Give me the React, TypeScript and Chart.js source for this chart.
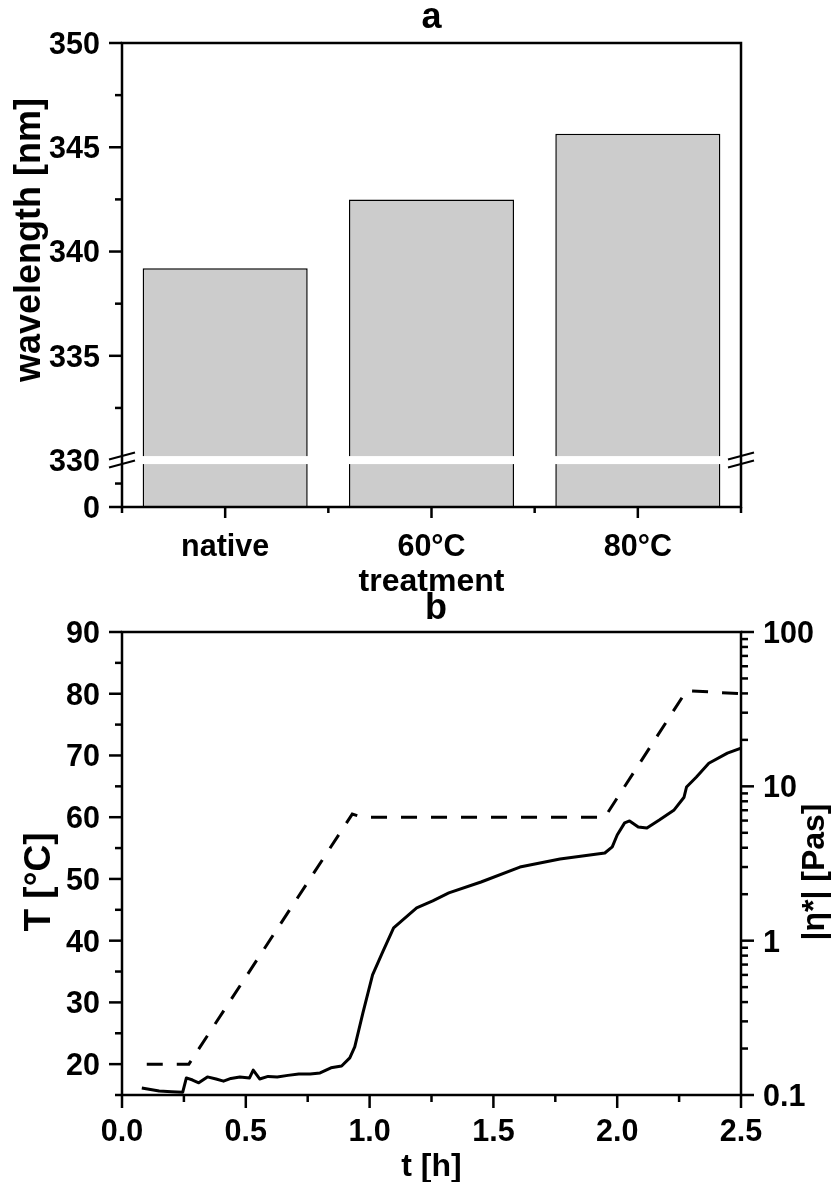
import React, { useEffect, useRef } from "react";
import { Chart, registerables } from "chart.js";

Chart.register(...registerables);

const FONT_FAMILY = '"Liberation Sans", Arial, Helvetica, sans-serif';

// ---------- Panel a data ----------
const treatmentLabels = ["native", "60°C", "80°C"];
const wavelengthValues = [339.2, 342.5, 345.65];
const waveTickValues = [330, 335, 340, 345, 350];
const waveTickLabels = ["330", "335", "340", "345", "350"];
const waveMinorValues = [332.5, 337.5, 342.5, 347.5];
const waveLowTickValues = [0];
const waveLowTickLabels = ["0"];
const waveLowMinorValues = [165];
const waveBreakValue = 330;
const waveMax = 350;

// ---------- Panel b data ----------
const tempTime = [0.1, 0.27, 0.93, 0.97, 1.95, 2.28, 2.5];
const tempValues = [20, 20, 60.5, 60, 60, 80.5, 80];

const viscTime = [
  0.08, 0.15, 0.2, 0.245, 0.26, 0.285, 0.31, 0.345, 0.38, 0.41,
  0.44, 0.476, 0.515, 0.53, 0.556, 0.59, 0.627, 0.67, 0.714, 0.76,
  0.8, 0.844, 0.887, 0.92, 0.94, 0.973, 1.012, 1.053, 1.097, 1.19,
  1.255, 1.32, 1.45, 1.607, 1.769, 1.95, 1.98, 2.0, 2.03, 2.05,
  2.085, 2.12, 2.17, 2.23, 2.27, 2.28, 2.32, 2.37, 2.445, 2.5,
];
const viscValues = [
  0.111, 0.106, 0.105, 0.104, 0.129, 0.125, 0.12, 0.131, 0.127, 0.123,
  0.128, 0.131, 0.129, 0.145, 0.127, 0.132, 0.131, 0.134, 0.137, 0.137,
  0.139, 0.15, 0.154, 0.174, 0.205, 0.34, 0.6, 0.845, 1.21, 1.63,
  1.81, 2.04, 2.4, 3.0, 3.38, 3.7, 4.05, 4.84, 5.8, 5.97,
  5.46, 5.37, 6.05, 7.03, 8.5, 9.9, 11.5, 14.1, 16.4, 17.7,
];

const timeTickValues = [0, 0.5, 1, 1.5, 2, 2.5];
const timeTickLabels = ["0.0", "0.5", "1.0", "1.5", "2.0", "2.5"];
const timeMinorValues = [0.25, 0.75, 1.25, 1.75, 2.25];
const tempTickValues = [20, 30, 40, 50, 60, 70, 80, 90];
const tempMinorValues = [15, 25, 35, 45, 55, 65, 75, 85];
const viscTickValues = [0.1, 1, 10, 100];
const viscTickLabels = ["0.1", "1", "10", "100"];
const viscMinorValues = [
  0.2, 0.3, 0.4, 0.5, 0.6, 0.7, 0.8, 0.9,
  2, 3, 4, 5, 6, 7, 8, 9,
  20, 30, 40, 50, 60, 70, 80, 90,
];

// broken axis: segment 0..330 squeezed into a short band below 330
const LOW_SPAN = 2.25;
const toBroken = (v: number) =>
  v >= waveBreakValue ? v : waveBreakValue - LOW_SPAN + (v / waveBreakValue) * LOW_SPAN;

const TICK_SIZE = 30.5;
const TITLE_SIZE = 32;
const LEFT_TITLE_SIZE = 36;
const PANEL_SIZE = 36;
const MAJOR = 12;
const MINOR = 7;

function line(ctx: CanvasRenderingContext2D, x1: number, y1: number, x2: number, y2: number, w = 2.5) {
  ctx.lineWidth = w;
  ctx.beginPath();
  ctx.moveTo(x1, y1);
  ctx.lineTo(x2, y2);
  ctx.stroke();
}

function text(
  ctx: CanvasRenderingContext2D,
  s: string,
  x: number,
  y: number,
  size: number,
  align: CanvasTextAlign = "center",
  rot = 0
) {
  ctx.save();
  ctx.font = `bold ${size}px ${FONT_FAMILY}`;
  ctx.fillStyle = "#000";
  ctx.textAlign = align;
  ctx.textBaseline = "alphabetic";
  ctx.translate(x, y);
  if (rot) ctx.rotate(rot);
  ctx.fillText(s, 0, 0);
  ctx.restore();
}

const capMid = TICK_SIZE * 0.358;

const panelAPlugin = {
  id: "panelA",
  afterDatasetsDraw(chart: any) {
    const ctx: CanvasRenderingContext2D = chart.ctx;
    const { left, right, top, bottom } = chart.chartArea;
    const xs = chart.scales.x;
    const ys = chart.scales.y;
    ctx.save();
    const yb = ys.getPixelForValue(waveBreakValue);
    // white break band
    ctx.fillStyle = "#fff";
    ctx.fillRect(left, yb - 4, right - left, 8);
    // frame
    ctx.strokeStyle = "#000";
    ctx.lineWidth = 2.5;
    ctx.strokeRect(left, top, right - left, bottom - top);
    // y ticks
    waveTickValues.forEach((v, i) => {
      const y = ys.getPixelForValue(toBroken(v));
      if (v !== waveBreakValue) line(ctx, left - MAJOR - 1, y, left, y);
      text(ctx, waveTickLabels[i], left - 22, y + capMid, TICK_SIZE, "right");
    });
    waveMinorValues.forEach((v) => {
      const y = ys.getPixelForValue(v);
      line(ctx, left - MINOR, y, left, y);
    });
    waveLowTickValues.forEach((v, i) => {
      const y = ys.getPixelForValue(toBroken(v));
      line(ctx, left - MAJOR - 1, y, left, y);
      text(ctx, waveLowTickLabels[i], left - 22, y + capMid, TICK_SIZE, "right");
    });
    waveLowMinorValues.forEach((v) => {
      const y = ys.getPixelForValue(toBroken(v));
      line(ctx, left - MINOR, y, left, y);
    });
    // break slashes
    [left, right].forEach((x) => {
      line(ctx, x - 13, yb - 0.5, x + 13, yb - 7.5, 2);
      line(ctx, x - 13, yb + 7.5, x + 13, yb + 0.5, 2);
    });
    // x ticks
    const n = treatmentLabels.length;
    const step = (right - left) / n;
    for (let i = 0; i <= n; i++) {
      const x = left + i * step;
      line(ctx, x, bottom, x, bottom + MINOR - 1);
    }
    treatmentLabels.forEach((lab, i) => {
      const x = xs.getPixelForValue(i);
      line(ctx, x, bottom, x, bottom + MAJOR - 1);
      text(ctx, lab, x, 556, TICK_SIZE, "center");
    });
    // titles
    text(ctx, "treatment", (left + right) / 2, 591, TITLE_SIZE, "center");
    text(ctx, "a", (left + right) / 2, 28, PANEL_SIZE, "center");
    text(ctx, "wavelength [nm]", 40, 240, LEFT_TITLE_SIZE, "center", -Math.PI / 2);
    ctx.restore();
  },
};

const panelBPlugin = {
  id: "panelB",
  afterDatasetsDraw(chart: any) {
    const ctx: CanvasRenderingContext2D = chart.ctx;
    const { left, right, top, bottom } = chart.chartArea;
    const xs = chart.scales.x;
    const ys = chart.scales.y;
    const y2 = chart.scales.y2;
    ctx.save();
    ctx.strokeStyle = "#000";
    ctx.lineWidth = 2.5;
    ctx.strokeRect(left, top, right - left, bottom - top);
    // left axis
    tempTickValues.forEach((v) => {
      const y = ys.getPixelForValue(v);
      line(ctx, left - MAJOR - 1, y, left, y);
      text(ctx, String(v), left - 22, y + capMid, TICK_SIZE, "right");
    });
    tempMinorValues.forEach((v) => {
      const y = ys.getPixelForValue(v);
      line(ctx, left - MINOR, y, left, y);
    });
    // right axis (log)
    viscTickValues.forEach((v, i) => {
      const y = y2.getPixelForValue(v);
      line(ctx, right, y, right + MAJOR + 1, y);
      text(ctx, viscTickLabels[i], right + 22, y + capMid, TICK_SIZE, "left");
    });
    viscMinorValues.forEach((v) => {
      const y = y2.getPixelForValue(v);
      line(ctx, right, y, right + MINOR, y);
    });
    // bottom axis
    timeTickValues.forEach((v, i) => {
      const x = xs.getPixelForValue(v);
      line(ctx, x, bottom, x, bottom + MAJOR + 1);
      text(ctx, timeTickLabels[i], x, 1141, TICK_SIZE, "center");
    });
    timeMinorValues.forEach((v) => {
      const x = xs.getPixelForValue(v);
      line(ctx, x, bottom, x, bottom + MINOR);
    });
    // titles
    text(ctx, "t [h]", (left + right) / 2, 1176, TITLE_SIZE, "center");
    text(ctx, "b", 436, 619, PANEL_SIZE, "center");
    text(ctx, "T [°C]", 50, 882, LEFT_TITLE_SIZE + 1, "center", -Math.PI / 2);
    text(ctx, "|η*| [Pas]", 824, 872, TITLE_SIZE, "center", -Math.PI / 2);
    ctx.restore();
  },
};

export default function App() {
  const refA = useRef<HTMLCanvasElement>(null);
  const refB = useRef<HTMLCanvasElement>(null);

  useEffect(() => {
    const chartA = new Chart(refA.current as HTMLCanvasElement, {
      type: "bar",
      data: {
        labels: treatmentLabels,
        datasets: [
          {
            label: "wavelength [nm]",
            data: wavelengthValues.map(toBroken),
            backgroundColor: "#cccccc",
            borderColor: "#000000",
            borderWidth: 1.5,
            barPercentage: 0.8,
            categoryPercentage: 1,
          },
        ],
      },
      options: {
        responsive: false,
        animation: false,
        devicePixelRatio: 1,
        layout: { padding: { left: 122, right: 97, top: 43, bottom: 675 } },
        plugins: {
          legend: { display: false },
          tooltip: { enabled: false },
          title: { display: false },
        },
        scales: {
          x: { display: false, offset: true },
          y: { display: false, min: toBroken(0), max: waveMax },
        },
      },
      plugins: [panelAPlugin],
    } as any);

    const chartB = new Chart(refB.current as HTMLCanvasElement, {
      type: "line",
      data: {
        datasets: [
          {
            label: "T [°C]",
            data: tempTime.map((t, i) => ({ x: t, y: tempValues[i] })),
            yAxisID: "y",
            borderColor: "#000000",
            borderWidth: 3,
            borderDash: [16, 14],
            pointRadius: 0,
            tension: 0,
            fill: false,
          },
          {
            label: "|η*| [Pas]",
            data: viscTime.map((t, i) => ({ x: t, y: viscValues[i] })),
            yAxisID: "y2",
            borderColor: "#000000",
            borderWidth: 3,
            borderJoinStyle: "round",
            pointRadius: 0,
            tension: 0,
            fill: false,
          },
        ],
      },
      options: {
        responsive: false,
        animation: false,
        devicePixelRatio: 1,
        layout: { padding: { left: 122, right: 97, top: 632, bottom: 87 } },
        plugins: {
          legend: { display: false },
          tooltip: { enabled: false },
          title: { display: false },
        },
        scales: {
          x: { type: "linear", display: false, min: 0, max: 2.5 },
          y: { type: "linear", display: false, min: 15, max: 90 },
          y2: { type: "logarithmic", display: false, min: 0.1, max: 100, position: "right" },
        },
      },
      plugins: [panelBPlugin],
    } as any);

    return () => {
      chartA.destroy();
      chartB.destroy();
    };
  }, []);

  return (
    <div style={{ position: "absolute", left: 0, top: 0, width: 838, height: 1182, background: "#ffffff" }}>
      <canvas ref={refA} width={838} height={1182} style={{ position: "absolute", left: 0, top: 0 }} />
      <canvas ref={refB} width={838} height={1182} style={{ position: "absolute", left: 0, top: 0 }} />
    </div>
  );
}
